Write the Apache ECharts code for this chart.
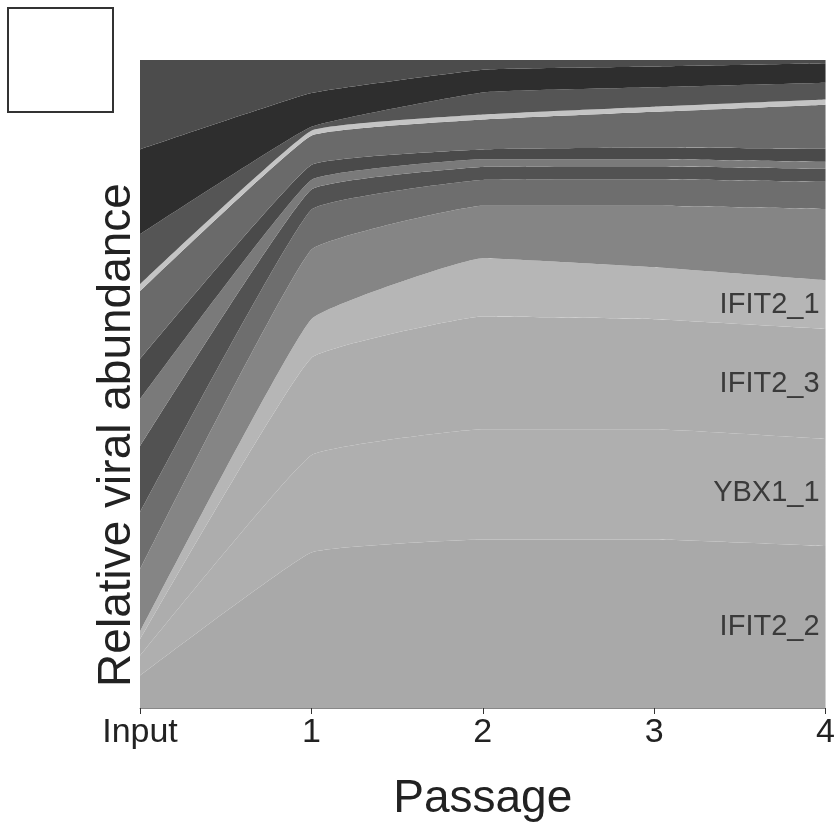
<!DOCTYPE html>
<html>
<head>
<meta charset="utf-8">
<script src="https://cdn.jsdelivr.net/npm/echarts@6/dist/echarts.min.js"></script>
<style>
  html, body { margin: 0; padding: 0; background: #fff; }
  #graph { width: 838px; height: 835px; }
</style>
</head>
<body>
<div id="graph"></div>
<script>
// x categories
const passages = ['Input', '1', '2', '3', '4'];

// stacked shares (%), bottom layer first
const ifit2_2 = [5, 24, 26, 26, 25];
const ybx1_1 = [3, 15, 17, 17, 16.5];
const ifit2_3 = [2.5, 15, 17.4, 17, 17];
const ifit2_1 = [1.2, 6, 9, 8, 7.5];
const bandLM = [9.6, 10.7, 8.1, 9.5, 11];
const bandMed2 = [8.8, 6.2, 4, 4.1, 4.2];
const bandDark2 = [10.2, 3.1, 2, 2, 2];
const bandLight = [7.3, 1.5, 1.2, 1.1, 1.1];
const bandDark1 = [6.2, 2.3, 1.5, 1.8, 2];
const bandMed1 = [10.5, 4.5, 4.6, 5.5, 6.8];
const bandLine = [1.1, 0.8, 0.8, 0.8, 0.8];
const bandMDark = [7.7, 0.6, 3.4, 3, 2.6];
const bandVDark = [13.1, 5.2, 3.5, 3.2, 3];
const bandTop = [13.8, 5.1, 1.5, 1, 0.5];

const layers = [
    { name: 'IFIT2_2', data: ifit2_2, color: '#a9a9a9', label: true },
    { name: 'YBX1_1', data: ybx1_1, color: '#afafaf', label: true },
    { name: 'IFIT2_3', data: ifit2_3, color: '#adadad', label: true },
    { name: 'IFIT2_1', data: ifit2_1, color: '#b6b6b6', label: true },
    { name: 'b10', data: bandLM, color: '#858585' },
    { name: 'b9', data: bandMed2, color: '#6e6e6e' },
    { name: 'b8', data: bandDark2, color: '#525252' },
    { name: 'b7', data: bandLight, color: '#7a7a7a' },
    { name: 'b6', data: bandDark1, color: '#4a4a4a' },
    { name: 'b5', data: bandMed1, color: '#6a6a6a' },
    { name: 'b4', data: bandLine, color: '#c4c4c4' },
    { name: 'b3', data: bandMDark, color: '#555555' },
    { name: 'b2', data: bandVDark, color: '#2e2e2e' },
    { name: 'b1', data: bandTop, color: '#4c4c4c' }
];

const FONT = 'Liberation Sans';

function createOptions() {
    const seriesList = layers.map((layer) => ({
        name: layer.name,
        type: 'line',
        stack: 'total',
        smooth: 0.1,
        showSymbol: false,
        lineStyle: { width: 0 },
        areaStyle: { color: layer.color, opacity: 1 },
        itemStyle: { color: layer.color },
        emphasis: { disabled: true },
        data: layer.data
    }));
    return {
        animation: false,
        textStyle: { fontFamily: FONT },
        grid: { left: 140, right: 6, top: 60, bottom: 127 },
        xAxis: {
            type: 'category',
            boundaryGap: false,
            data: passages,
            name: 'Passage',
            nameLocation: 'middle',
            nameGap: 68,
            nameTextStyle: { fontSize: 46, color: '#222', fontFamily: FONT },
            axisLine: { show: true, lineStyle: { color: '#888', width: 1 } },
            axisTick: { show: true, length: 6, lineStyle: { color: '#333' } },
            axisLabel: { fontSize: 34, color: '#222', margin: 8, fontFamily: FONT }
        },
        yAxis: {
            type: 'value',
            min: 0,
            max: 100,
            name: 'Relative viral abundance',
            nameLocation: 'middle',
            nameGap: 0,
            nameTextStyle: { fontSize: 46, color: '#222', fontFamily: FONT, padding: [0, 102, 0, 0] },
            axisLine: { show: false },
            axisTick: { show: false },
            axisLabel: { show: false },
            splitLine: { show: false }
        },
        series: seriesList
    };
}

function showGraph() {
    const container = document.getElementById('graph');
    const myChart = echarts.init(container);
    myChart.setOption(createOptions());

    // legend box + labels at the right end, centred in each labelled layer
    const graphics = [{
        type: 'rect',
        shape: { x: 8, y: 8, width: 105, height: 104 },
        style: { fill: '#fff', stroke: '#333', lineWidth: 2 }
    }];
    const last = passages.length - 1;
    let base = 0;
    layers.forEach((layer) => {
        const v = layer.data[last];
        if (layer.label) {
            const pt = myChart.convertToPixel({ xAxisIndex: 0, yAxisIndex: 0 }, [last, base + v / 2]);
            graphics.push({
                type: 'text',
                x: pt[0] - 6,
                y: pt[1],
                style: {
                    text: layer.name,
                    fill: '#3a3a3a',
                    font: '29px "' + FONT + '"',
                    textAlign: 'right',
                    textVerticalAlign: 'middle'
                },
                z: 100
            });
        }
        base += v;
    });
    myChart.setOption({ graphic: graphics });
}

showGraph();
</script>
</body>
</html>
